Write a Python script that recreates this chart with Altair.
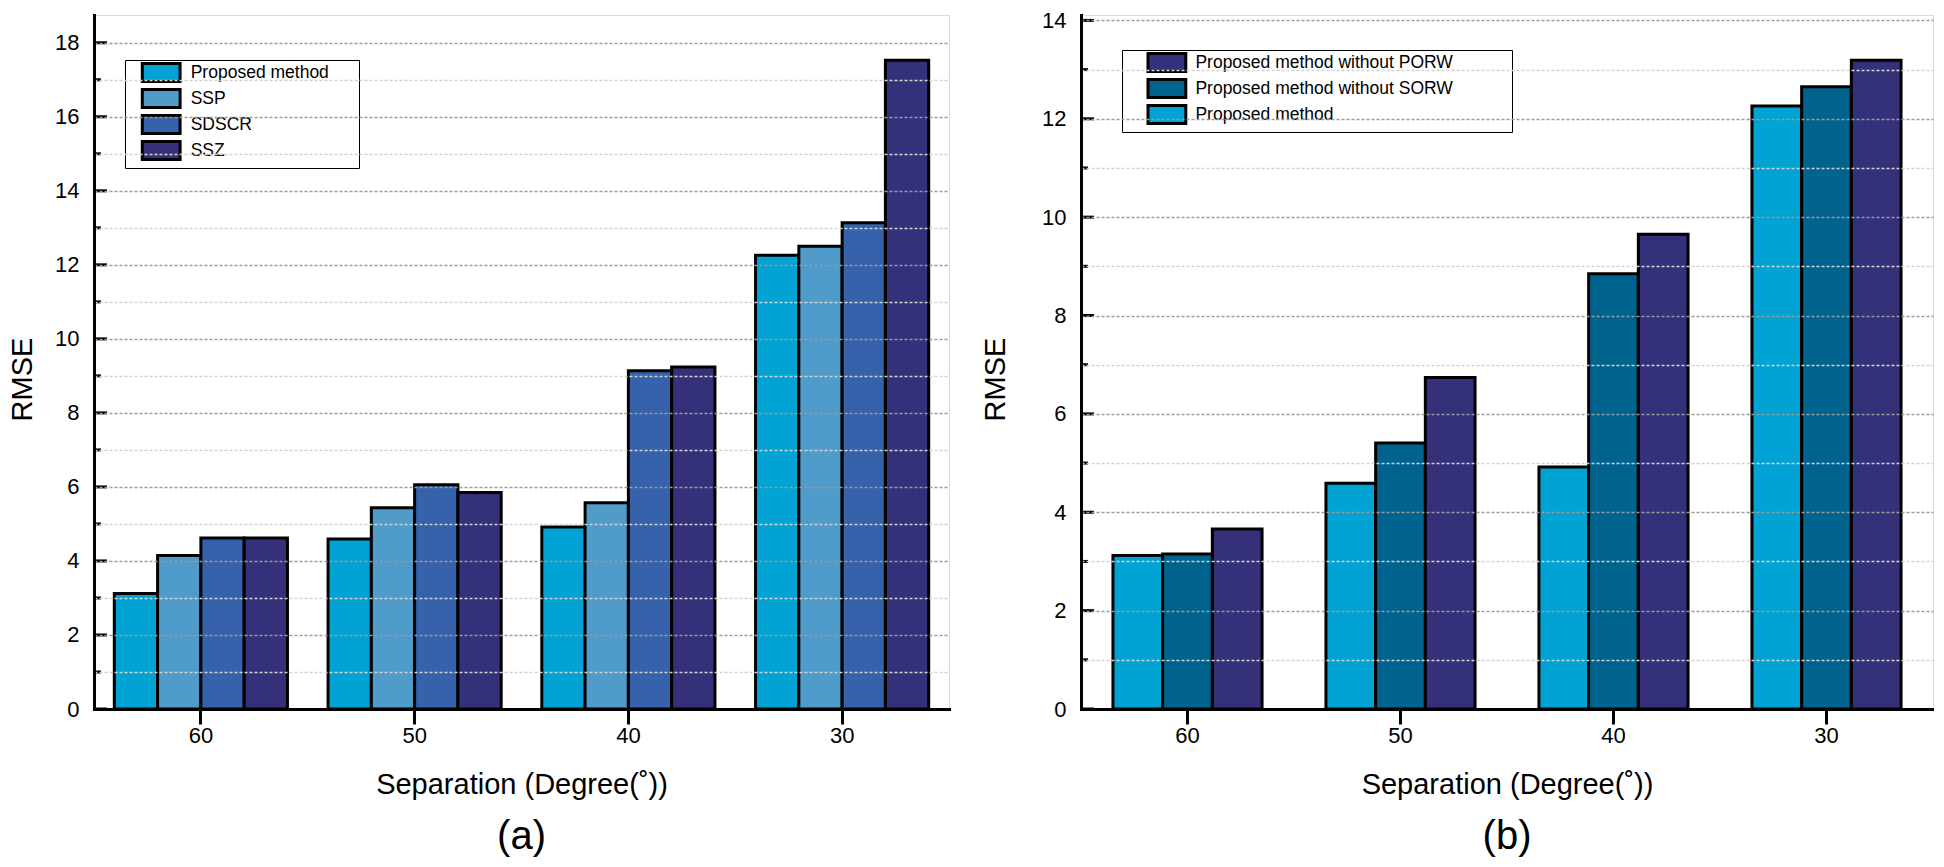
import altair as alt
import pandas as pd

FONT = "Liberation Sans"

# ---------------- data ----------------
categories = ["60", "50", "40", "30"]
x_title = "Separation (Degree(˚))"
y_title = "RMSE"

# panel (a)
methods_a = ["Proposed method", "SSP", "SDSCR", "SSZ"]
legend_order_a = ["Proposed method", "SSP", "SDSCR", "SSZ"]
colors_a = ["#00a3d3", "#4f9bca", "#3661ab", "#34307a"]
proposed_a = [3.12, 4.59, 4.92, 12.26]
ssp_a = [4.15, 5.44, 5.57, 12.50]
sdscr_a = [4.62, 6.06, 9.14, 13.14]
ssz_a = [4.62, 5.85, 9.24, 17.53]
yticks_a = [0, 1, 2, 3, 4, 5, 6, 7, 8, 9, 10, 11, 12, 13, 14, 15, 16, 17, 18]

# panel (b)
methods_b = ["Proposed method", "Proposed method without SORW", "Proposed method without PORW"]
legend_order_b = ["Proposed method without PORW", "Proposed method without SORW", "Proposed method"]
colors_b = ["#00a3d3", "#00638e", "#34307a"]
proposed_b = [3.12, 4.59, 4.92, 12.26]
sorw_b = [3.15, 5.41, 8.85, 12.65]
porw_b = [3.66, 6.74, 9.65, 13.19]
yticks_b = [0, 1, 2, 3, 4, 5, 6, 7, 8, 9, 10, 11, 12, 13, 14]


def long_df(methods, series):
    rows = []
    for m, vals in zip(methods, series):
        for c, v in zip(categories, vals):
            rows.append({"sep": c, "method": m, "rmse": v})
    return pd.DataFrame(rows)


df_a = long_df(methods_a, [proposed_a, ssp_a, sdscr_a, ssz_a])
df_b = long_df(methods_b, [proposed_b, sorw_b, porw_b])

PLOT_H = 694


def panel(df, methods, colors, legend_order, ymax, yticks, width, pad_inner,
          letter, legend_x, legend_y, sym_offset, label_offset, pad_title_size,
          y_title_pad):
    cmap = dict(zip(methods, colors))
    yscale = alt.Scale(domain=[0, ymax], nice=False, zero=True)
    x = alt.X(
        "sep:N", sort=categories, title=x_title,
        scale=alt.Scale(paddingInner=pad_inner, paddingOuter=pad_inner / 2),
        axis=alt.Axis(labelAngle=0, tickSize=15, tickWidth=3, tickColor="black",
                      domainWidth=3, domainColor="black", domainCap="square",
                      labelFontSize=22, labelFont=FONT, labelColor="black", labelPadding=1,
                      titleFontSize=29, titleFont=FONT, titleFontWeight="normal",
                      titleColor="black", titlePadding=24, zindex=1),
    )
    yaxis = alt.Axis(values=yticks,
                     labelExpr="datum.value % 2 === 0 ? datum.label : ''",
                     ticks=False, tickSize=0,
                     domainWidth=3, domainColor="black", domainCap="square",
                     labelFontSize=22, labelFont=FONT, labelColor="black", labelPadding=15,
                     titleFontSize=29, titleFont=FONT, titleFontWeight="normal",
                     titleColor="black", titlePadding=y_title_pad, titleY=364,
                     grid=True, gridDash=[3, 2], gridWidth=1.4,
                     gridColor={"condition": {"test": "datum.value % 2 === 0", "value": "#9a9a9a"},
                                "value": "#d2d2d2"},
                     zindex=1)
    legend = alt.Legend(
        title="M", titleOrient="right", titleFontSize=pad_title_size, titlePadding=5,
        titleOpacity=0,
        orient="none", legendX=legend_x, legendY=legend_y, direction="vertical",
        strokeColor="black", fillColor="white", padding=2,
        symbolType="M-2.1,-1H2.1V1H-2.1Z", symbolSize=324, symbolStrokeColor="black",
        symbolStrokeWidth=3, symbolOpacity=1, symbolOffset=sym_offset,
        labelFontSize=17.5, labelFont=FONT, labelColor="black", labelOffset=label_offset,
        labelLimit=500, rowPadding=-9,
    )
    bars = alt.Chart(df).mark_bar(stroke="black", strokeWidth=3, opacity=1).encode(
        x=x,
        y=alt.Y("rmse:Q", title=y_title, scale=yscale, axis=yaxis),
        xOffset=alt.XOffset("method:N", sort=methods,
                            scale=alt.Scale(paddingInner=0, paddingOuter=0)),
        color=alt.Color("method:N",
                        scale=alt.Scale(domain=legend_order,
                                        range=[cmap[m] for m in legend_order]),
                        legend=legend),
    )
    tick_df = pd.DataFrame({"rmse": yticks})
    major = alt.Chart(tick_df).transform_filter("datum.rmse % 2 === 0").mark_rule(
        color="black", strokeWidth=3).encode(
        y=alt.Y("rmse:Q", title=y_title, scale=yscale, axis=yaxis),
        x=alt.value(0), x2=alt.value(13))
    minor = alt.Chart(tick_df).transform_filter("datum.rmse % 2 === 1").mark_rule(
        color="black", strokeWidth=3).encode(
        y=alt.Y("rmse:Q", title=y_title, scale=yscale, axis=yaxis),
        x=alt.value(0), x2=alt.value(7))
    return alt.layer(bars, major, minor).properties(
        width=width, height=PLOT_H,
        title=alt.TitleParams(letter, orient="bottom", fontSize=40, font=FONT,
                              fontWeight="normal", color="black", anchor="middle",
                              frame="group", offset=18),
    )


left = panel(df_a, methods_a, colors_a, legend_order_a, 18.75, yticks_a, 855, 0.19,
             "(a)", 31, 45, 23.7, 19, 27, 17)
right = panel(df_b, methods_b, colors_b, legend_order_b, 14.11, yticks_b, 852, 0.30,
              "(b)", 41, 35, 32.4, 18, 61.5, 31)

chart = alt.hconcat(left, right, spacing=31).resolve_scale(
    color="independent", xOffset="independent", x="independent", y="independent"
).properties(
    padding={"left": 0, "top": 0, "right": 0, "bottom": 0}
).configure_view(stroke="transparent", strokeWidth=0).configure_legend(
    strokeWidth=2
).configure(font=FONT)

chart.save("out.html", embed_options={"renderer": "svg", "actions": False})
